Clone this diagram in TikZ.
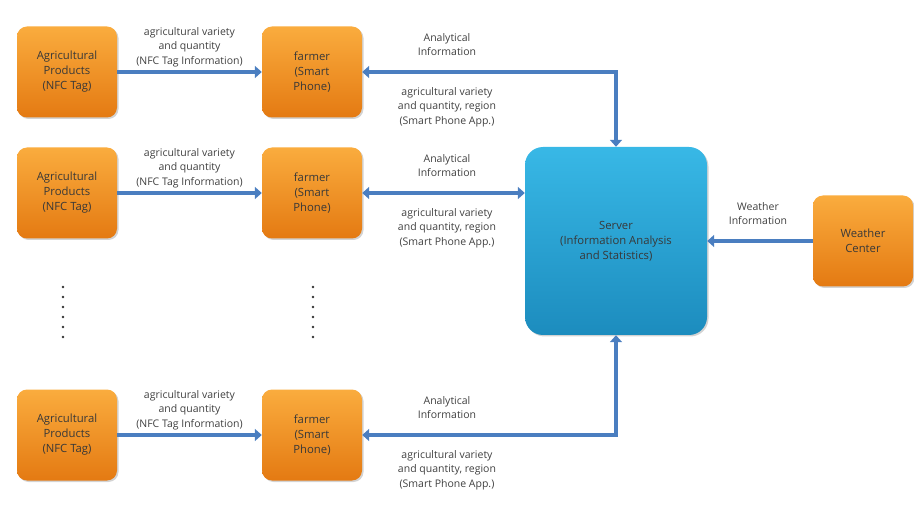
\documentclass[tikz,border=0pt]{standalone}
\usepackage{fontspec}
\setmainfont{Open Sans}
\usetikzlibrary{shadows,arrows.meta,calc}
\definecolor{flowblue}{RGB}{74,126,192}
\definecolor{orangetop}{RGB}{250,172,62}
\definecolor{orangebot}{RGB}{228,122,18}
\definecolor{servertop}{RGB}{56,184,230}
\definecolor{serverbot}{RGB}{28,140,190}
\definecolor{txtgray}{RGB}{64,64,64}
\tikzset{fat/.tip={Triangle[width=12pt,length=7pt]}}

\begin{document}
\begin{tikzpicture}[x=1pt,y=-1pt,
    box/.style={rounded corners=10pt,minimum width=100pt,minimum height=91pt,
      align=center,text=black!78,font=\fontsize{11.3}{15}\selectfont,
      top color=orangetop,bottom color=orangebot,
      drop shadow={opacity=0.35,shadow xshift=1.5pt,shadow yshift=-1.5pt}},
    flow/.style={draw=flowblue,line width=4.5pt},
    lbl/.style={align=center,text=txtgray,font=\fontsize{10.5}{14.5}\selectfont,inner sep=1pt}]
  \useasboundingbox (0,0) rectangle (914,505);

  % rows of products and farmers
  \foreach \r/\y in {1/72,2/193,3/435} {
    \node[box] (p\r) at (67,\y) {Agricultural\\Products\\(NFC Tag)};
    \node[box] (f\r) at (312,\y) {farmer\\(Smart\\Phone)};
    \draw[flow,-fat] (p\r.east) -- (f\r.west);
    \node[lbl,anchor=south] at ($(p\r.east)!0.5!(f\r.west)+(0,-4)$)
      {agricultural variety\\and quantity\\(NFC Tag Information)};
    \node[lbl,anchor=south] at (447,\y-15) {Analytical\\Information};
    \node[lbl,anchor=north] at (447,\y+14)
      {agricultural variety\\and quantity, region\\(Smart Phone App.)};
  }

  % server and weather
  \node[box,top color=servertop,bottom color=serverbot,minimum width=182pt,
    minimum height=188pt,rounded corners=18pt] (srv) at (616,241)
    {Server\\(Information Analysis\\and Statistics)};
  \node[box] (wc) at (863,241) {Weather\\Center};

  \draw[flow,fat-fat] (f1.east) -| (srv.north);
  \draw[flow,fat-fat] (f2.east) -- (f2.east -| srv.west);
  \draw[flow,fat-fat] (f3.east) -| (srv.south);
  \draw[flow,-fat] (wc.west) -- (srv.east);
  \node[lbl,anchor=south] at (758,226) {Weather\\Information};

  % dots between rows
  \foreach \x in {63,313}
    \foreach \i in {0,...,5}
      \fill[black!80] (\x,287+10*\i) circle (1.4pt);
\end{tikzpicture}
\end{document}
